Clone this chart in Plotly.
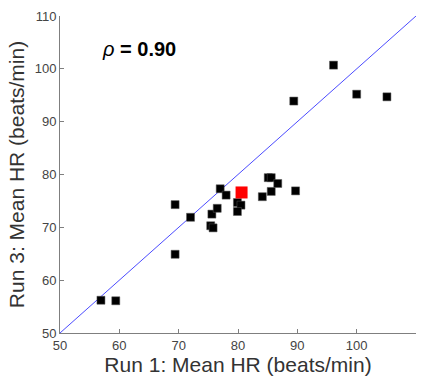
import plotly.graph_objects as go

# Mean heart rate per subject, run 1 vs run 3 (beats/min)
run1 = [56.9, 59.4, 69.4, 69.4, 72.0, 75.4, 75.8, 75.6, 76.5, 77.0, 78.0,
        79.9, 80.5, 79.9, 84.1, 85.1, 85.6, 86.7, 85.6, 89.7, 89.4, 96.1,
        100.0, 105.1]
run3 = [56.2, 56.1, 74.3, 64.9, 71.9, 70.3, 69.9, 72.5, 73.6, 77.3, 76.1,
        74.7, 74.2, 73.0, 75.8, 79.4, 79.4, 78.3, 76.8, 76.9, 93.9, 100.7,
        95.2, 94.7]

# Highlighted subject
hl_run1 = [80.6]
hl_run3 = [76.6]

identity = [50, 110]
rho_text = "<i>ρ</i><b> = 0.90</b>"

fig = go.Figure()
fig.add_trace(go.Scatter(x=identity, y=identity, mode="lines",
                         line=dict(color="#4b4bff", width=1),
                         hoverinfo="skip", showlegend=False))
fig.add_trace(go.Scatter(x=run1, y=run3, mode="markers",
                         marker=dict(symbol="square", size=8, color="black",
                                     line=dict(color="#555", width=0.5)),
                         showlegend=False))
fig.add_trace(go.Scatter(x=hl_run1, y=hl_run3, mode="markers",
                         marker=dict(symbol="square", size=12, color="#ff0000",
                                     line=dict(width=0)),
                         showlegend=False))

axis_common = dict(range=[50, 110], dtick=10, tick0=50, showgrid=False,
                   zeroline=False, showline=True, linecolor="#7f7f7f",
                   linewidth=1, ticks="inside", ticklen=4, tickcolor="#7f7f7f",
                   tickfont=dict(family="Liberation Sans, Arial", size=13,
                                 color="#444"))

fig.update_layout(
    width=425, height=382,
    margin=dict(l=60, r=9, t=10, b=49),
    paper_bgcolor="white", plot_bgcolor="white",
    xaxis=dict(**axis_common,
               title=dict(text="Run 1: Mean HR (beats/min)", standoff=4,
                          font=dict(family="Liberation Sans, Arial", size=21,
                                    color="#333"))),
    yaxis=dict(**axis_common,
               title=dict(text="Run 3: Mean HR (beats/min)", standoff=4,
                          font=dict(family="Liberation Sans, Arial", size=21,
                                    color="#333"))),
    annotations=[dict(x=0.112, y=0.895, xref="paper", yref="paper",
                      text=rho_text, showarrow=False, xanchor="left",
                      yanchor="middle",
                      font=dict(family="Liberation Sans, Arial", size=20,
                                color="black"))],
)

fig.write_html("out.html")
